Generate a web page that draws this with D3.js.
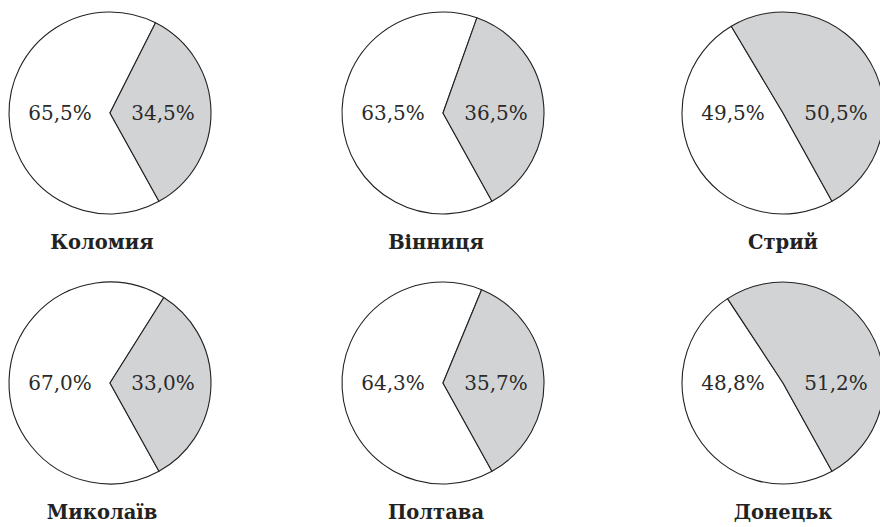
<!DOCTYPE html>
<html>
<head>
<meta charset="utf-8">
<script src="https://cdn.jsdelivr.net/npm/d3@7"></script>
<style>
  body { margin: 0; background: #fff; }
</style>
</head>
<body>
<script>
// міста та частки (перша - біла, друга - сіра)
var cities = ["Коломия", "Вінниця", "Стрий", "Миколаїв", "Полтава", "Донецьк"];
var shareA = [65.5, 63.5, 49.5, 67.0, 64.3, 48.8];
var shareB = [34.5, 36.5, 50.5, 33.0, 35.7, 51.2];

var w = 880, h = 527;
var r = 101;
var colX = [110, 443, 783];
var nameX = [102, 436, 783];
var rowY = [113, 383];
var startDeg = 151;
var serif = "'DejaVu Serif', 'Noto Serif', 'Liberation Serif', serif";

var svg = d3.select("body").append("svg")
  .attr("width", w)
  .attr("height", h)
  .style("font-family", serif);

var pie = d3.pie()
  .sort(null)
  .startAngle(startDeg * Math.PI / 180)
  .endAngle((startDeg + 360) * Math.PI / 180);

var arc = d3.arc().innerRadius(0).outerRadius(r);
var fmt = function(v){ return v.toFixed(1).replace(".", ",") + "%"; };
var fills = ["#ffffff", "#d2d3d5"];

cities.forEach(function(name, i){
  var cx = colX[i % 3], cy = rowY[Math.floor(i / 3)];
  var g = svg.append("g").attr("transform", "translate(" + cx + "," + cy + ")");
  var vals = [shareA[i], shareB[i]];

  g.selectAll("path")
    .data(pie(vals))
    .enter()
    .append("path")
    .attr("d", arc)
    .attr("fill", function(d, j){ return fills[j]; })
    .attr("stroke", "#222")
    .attr("stroke-width", 1.1)
    .attr("stroke-linejoin", "round");

  // підписи відсотків - ліворуч і праворуч від центру
  g.selectAll("text.val")
    .data(vals)
    .enter()
    .append("text")
    .attr("class", "val")
    .attr("x", function(d, j){ return j == 0 ? -50 : 53; })
    .attr("y", 7)
    .attr("text-anchor", "middle")
    .attr("font-family", serif)
    .attr("font-size", 20)
    .attr("fill", "#2a2a2a")
    .text(fmt);

  svg.append("text")
    .attr("x", nameX[i % 3])
    .attr("y", cy + 136)
    .attr("text-anchor", "middle")
    .attr("font-family", serif)
    .attr("font-size", 19.5)
    .attr("font-weight", "bold")
    .attr("fill", "#222")
    .text(name);
});
</script>
</body>
</html>
